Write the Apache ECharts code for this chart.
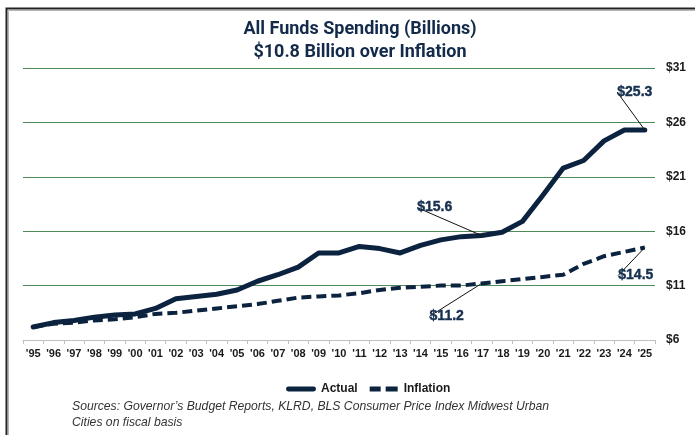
<!DOCTYPE html>
<html>
<head>
<meta charset="utf-8">
<script src="https://cdn.jsdelivr.net/npm/echarts@6/dist/echarts.min.js"></script>
<style>
html,body{margin:0;padding:0;background:#fff;}
#chart{width:695px;height:435px;}
</style>
</head>
<body>
<div id="chart"></div>
<script>
var years = ["'95","'96","'97","'98","'99","'00","'01","'02","'03","'04","'05","'06","'07","'08","'09","'10","'11","'12","'13","'14","'15","'16","'17","'18","'19","'20","'21","'22","'23","'24","'25"];
var actual = [7.2,7.6,7.8,8.1,8.3,8.4,8.9,9.8,10.0,10.2,10.6,11.4,12.0,12.7,14.0,14.0,14.6,14.4,14.0,14.7,15.2,15.5,15.6,15.9,16.9,19.3,21.8,22.5,24.3,25.3,25.3];
var inflation = [7.2,7.5,7.6,7.8,7.9,8.1,8.4,8.5,8.7,8.9,9.1,9.3,9.6,9.9,10.0,10.1,10.3,10.6,10.8,10.9,11.0,11.0,11.2,11.4,11.6,11.8,12.0,13.0,13.7,14.1,14.5];
var yTicks = [6, 11, 16, 21, 26, 31];
var labeledIdx = [22, 30];
var sourceLines = ["Sources: Governor\u2019s Budget Reports, KLRD, BLS Consumer Price Index Midwest Urban", "Cities on fiscal basis"];

var NAVY = '#0c2340';
var TFONT = 'Roboto, "Liberation Sans", sans-serif';
var FONT = '"Liberation Sans", Arial, sans-serif';

// label offsets (dx, dy) relative to the data point, per series
var labelOffsets = [
  {22: [-47, -28], 30: [-10, -38]},
  {22: [-35, 33], 30: [-9, 28]}
];

var labelStyle = {
  position: 'inside',
  formatter: function (p) { return '{b|$' + p.value.toFixed(1) + '}'; },
  rich: {
    b: { color: '#16304f', fontWeight: 'bold', fontSize: 14, fontFamily: FONT,
         textBorderColor: '#16304f', textBorderWidth: 0.4 }
  }
};

function mkData(arr) {
  return arr.map(function (v, i) {
    var show = labeledIdx.indexOf(i) >= 0;
    return {
      value: v,
      label: { show: show },
      labelLine: { show: show, lineStyle: { color: '#111', width: 1 } }
    };
  });
}

var chart = echarts.init(document.getElementById('chart'), null, {renderer: 'canvas'});
var seriesCommon = {
  type: 'line',
  symbol: 'circle',
  symbolSize: 0,
  showSymbol: true,
  showAllSymbol: true,
  silent: true,
  animation: false,
  label: labelStyle,
  labelLine: { lineStyle: { color: '#111', width: 1 } },
  labelLayout: function (p) {
    var o = labelOffsets[p.seriesIndex][p.dataIndex];
    return o ? { dx: o[0], dy: o[1] } : {};
  }
};

var option = {
  animation: false,
  backgroundColor: '#fff',
  title: {
    text: 'All Funds Spending (Billions)\n$10.8 Billion over Inflation',
    left: 355,
    textAlign: 'center',
    top: 13,
    textStyle: { fontSize: 18, fontWeight: 'bold', color: '#132a4a', fontFamily: TFONT, lineHeight: 23 }
  },
  grid: { left: 23, right: 40, top: 68, bottom: 95 },
  legend: {
    top: 378,
    left: 281,
    itemWidth: 30,
    itemHeight: 5,
    itemGap: 12,
    textStyle: { fontSize: 12, fontWeight: 'bold', color: '#1a1a1a', fontFamily: FONT },
    data: [
      { name: 'Actual', icon: 'path://M2,0h26a2,2 0 0 1 0,5h-26a2,2 0 0 1 0,-5z' },
      { name: 'Inflation', icon: 'path://M0,0h11v5h-11zM16,0h12v5h-12z' }
    ]
  },
  xAxis: {
    type: 'category',
    data: years,
    boundaryGap: true,
    axisLine: { lineStyle: { color: '#bfbfbf', width: 1 } },
    axisTick: { show: true, length: 4, lineStyle: { color: '#bfbfbf' } },
    axisLabel: { fontSize: 11, fontWeight: 'bold', color: '#1a1a1a', fontFamily: FONT, margin: 8, interval: 0 }
  },
  yAxis: {
    type: 'value',
    position: 'right',
    min: yTicks[0],
    max: yTicks[yTicks.length - 1],
    interval: yTicks[1] - yTicks[0],
    axisLine: { show: false },
    axisTick: { show: false },
    splitLine: { lineStyle: { color: '#4e8a5a', width: 1 } },
    axisLabel: {
      fontSize: 12, fontWeight: 'bold', color: '#1a1a1a', fontFamily: FONT, margin: 11,
      formatter: function (v) { return '$' + v; }
    }
  },
  series: [
    Object.assign({}, seriesCommon, {
      name: 'Actual',
      data: mkData(actual),
      color: NAVY,
      lineStyle: { color: NAVY, width: 5, cap: 'round', join: 'round' },
      itemStyle: { color: NAVY }
    }),
    Object.assign({}, seriesCommon, {
      name: 'Inflation',
      data: mkData(inflation),
      color: NAVY,
      lineStyle: { color: NAVY, width: 4, type: [10, 5] },
      itemStyle: { color: NAVY }
    })
  ],
  graphic: [
    { type: 'rect', z: 100, shape: { x: 8.5, y: 10.5, width: 720, height: 460 }, style: { fill: 'none', stroke: '#b5b5b5', lineWidth: 1 }, silent: true },
    { type: 'rect', z: 101, shape: { x: 6.5, y: 8.5, width: 720, height: 460 }, style: { fill: 'none', stroke: '#222', lineWidth: 2 }, silent: true },
    { type: 'text', left: 72, top: 401, style: { text: sourceLines[0], fontSize: 12.2, fontStyle: 'italic', fill: '#333', fontFamily: FONT } },
    { type: 'text', left: 72, top: 417, style: { text: sourceLines[1], fontSize: 12.2, fontStyle: 'italic', fill: '#333', fontFamily: FONT } }
  ]
};
chart.setOption(option);
</script>
</body>
</html>
